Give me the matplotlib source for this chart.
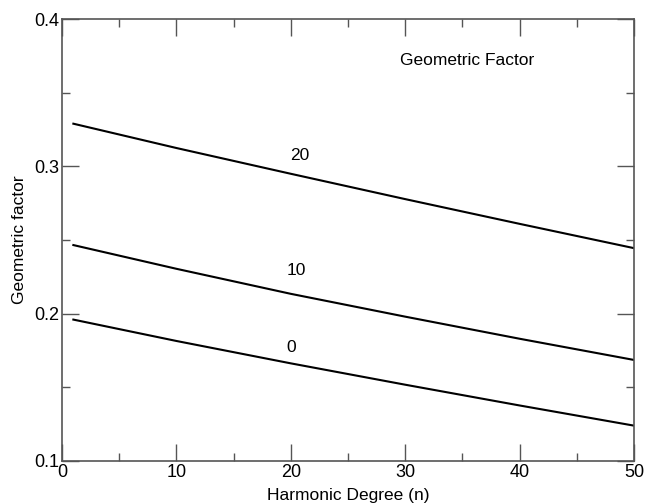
import matplotlib
matplotlib.use("Agg")
import matplotlib.pyplot as plt
from matplotlib.ticker import MultipleLocator

plt.rcParams.update({
    "font.family": ["Liberation Sans", "DejaVu Sans"],
})

# harmonic degree samples and geometric factor curves
degree = [1, 10, 20, 30, 40, 50]
factor_0 = [0.196, 0.1815, 0.1663, 0.1518, 0.1377, 0.124]
factor_10 = [0.2466, 0.2305, 0.2135, 0.198, 0.183, 0.1686]
factor_20 = [0.329, 0.3125, 0.295, 0.2778, 0.261, 0.2445]

curve_labels = ["0", "10", "20"]
label_x = [20.0, 20.5, 20.8]
label_y = [0.177, 0.229, 0.3077]

fig = plt.figure(figsize=(6.45, 5.03), dpi=100)
ax = fig.add_axes([0.096, 0.0835, 0.887, 0.8785])

for ys in (factor_0, factor_10, factor_20):
    ax.plot(degree, ys, color="black", linewidth=1.5)

for text, x, y in zip(curve_labels, label_x, label_y):
    ax.text(x, y, text, ha="center", va="center", fontsize=12.5)

ax.text(35.4, 0.372, "Geometric Factor", ha="center", va="center", fontsize=12.5)

ax.set_xlim(0, 50)
ax.set_ylim(0.1, 0.4)
ax.xaxis.set_major_locator(MultipleLocator(10))
ax.xaxis.set_minor_locator(MultipleLocator(5))
ax.yaxis.set_major_locator(MultipleLocator(0.1))
ax.yaxis.set_minor_locator(MultipleLocator(0.05))
ax.set_yticklabels([f"{v:.1f}" for v in ax.get_yticks()])

ax.tick_params(which="both", direction="in", top=True, right=True,
               labelsize=13, color="#555555", pad=2)
ax.tick_params(which="major", length=12, width=1)
ax.tick_params(which="minor", length=6, width=1)
for s in ax.spines.values():
    s.set_color("#555555")
    s.set_linewidth(1.2)

ax.set_xlabel("Harmonic Degree (n)", fontsize=12.5, labelpad=5)
ax.set_ylabel("Geometric factor", fontsize=12.5, labelpad=5)

fig.savefig("out.png", dpi=100)
